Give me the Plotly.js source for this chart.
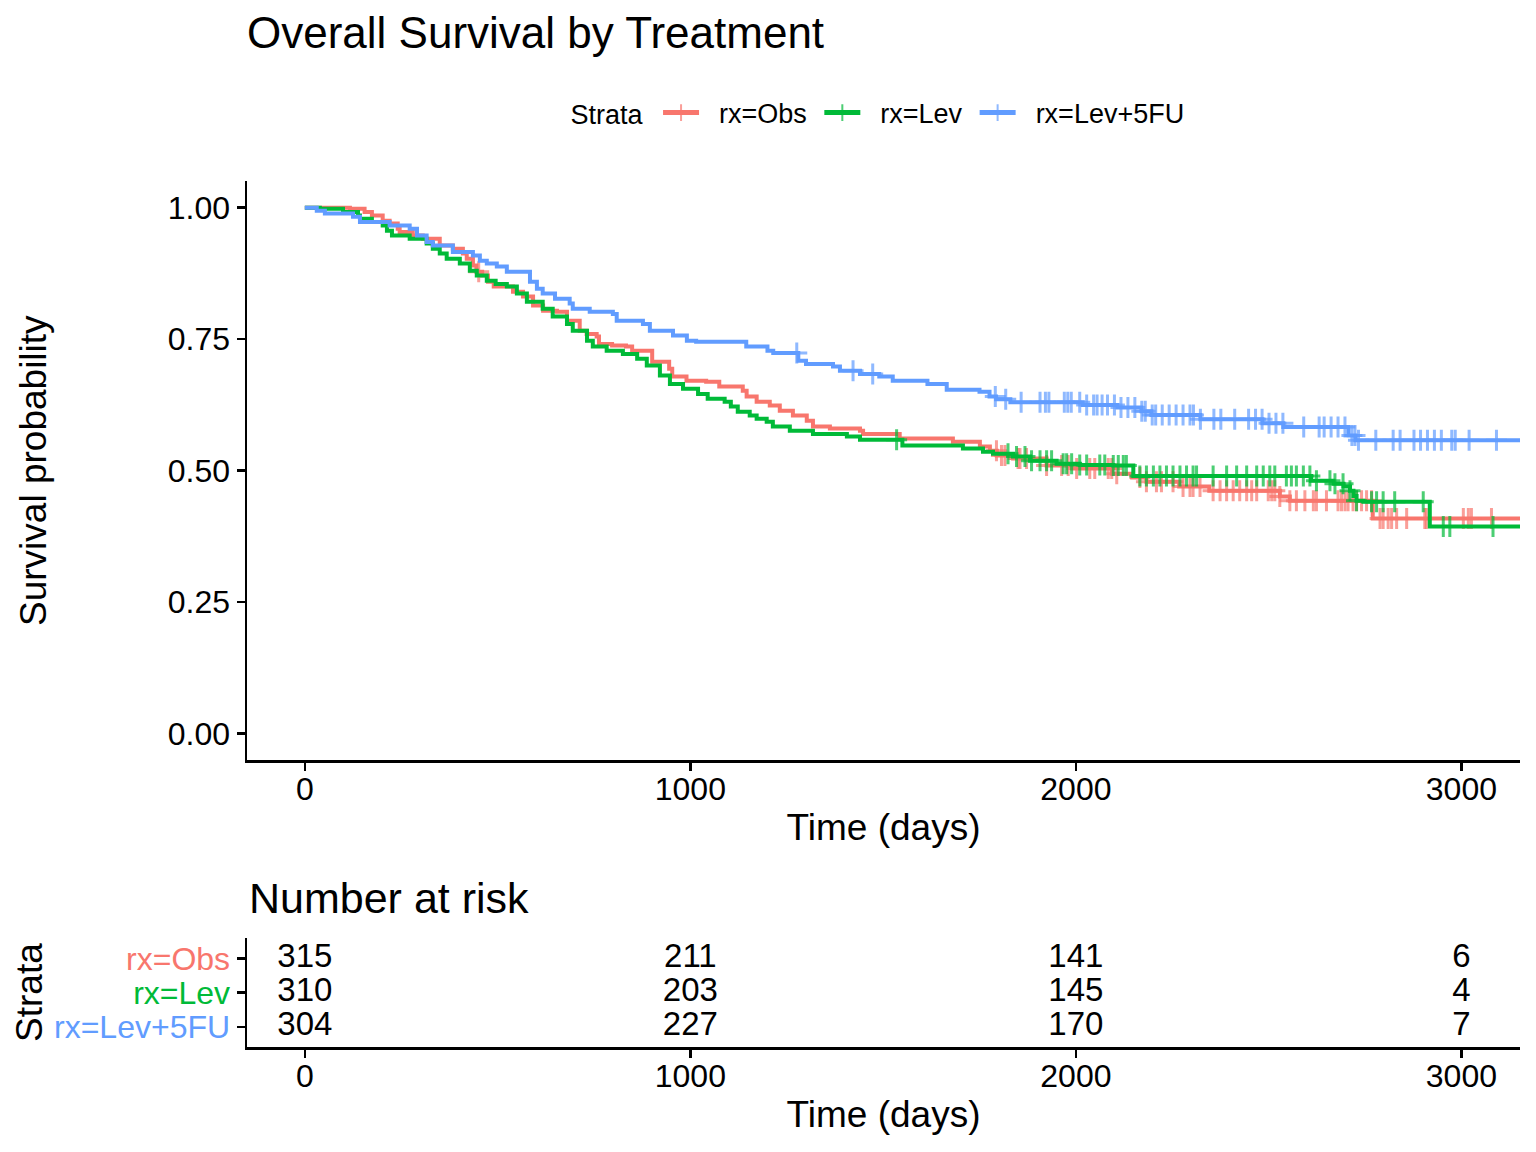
<!DOCTYPE html>
<html>
<head>
<meta charset="utf-8">
<script src="https://cdn.plot.ly/plotly-3.0.1.min.js"></script>
<style>html,body{margin:0;padding:0;background:#fff;}#chart{width:1536px;height:1152px;}</style>
</head>
<body>
<div id="chart"></div>
<script>
// ---------------- data ----------------
const groups = ["rx=Obs", "rx=Lev", "rx=Lev+5FU"];
const colors = ["#F8766D", "#00BA38", "#619CFF"];

// Kaplan-Meier step times (days) and survival values
const obsTime = [0,117,155,174,202,220,241,246,280,306,350,384,410,420,436,445,460,475,490,540,566,592,618,654,680,713,731,757,763,797,833,849,901,945,953,990,1041,1075,1136,1146,1172,1206,1232,1266,1302,1318,1362,1440,1448,1543,1681,1751,1777,1795,1837,1924,1990,2094,2146,2183,2268,2346,2529,2555,2770,3329];
const obsSurv = [1,0.998,0.992,0.985,0.975,0.970,0.960,0.954,0.947,0.941,0.928,0.922,0.913,0.903,0.890,0.878,0.871,0.859,0.850,0.840,0.831,0.814,0.804,0.802,0.785,0.766,0.760,0.755,0.741,0.738,0.736,0.728,0.707,0.694,0.679,0.671,0.669,0.660,0.652,0.641,0.631,0.624,0.614,0.605,0.595,0.584,0.580,0.576,0.570,0.561,0.555,0.546,0.538,0.529,0.523,0.510,0.504,0.494,0.487,0.479,0.470,0.462,0.451,0.443,0.409,0.409];

const levTime = [0,39,99,138,143,174,202,213,226,272,316,332,350,368,402,428,446,472,495,524,550,576,617,643,680,695,732,747,783,825,862,887,921,947,981,1020,1045,1089,1105,1123,1154,1172,1198,1214,1258,1318,1406,1440,1550,1707,1759,1785,1837,1881,1950,2010,2097,2149,2610,2668,2694,2711,2720,2728,2746,2918,3329];
const levSurv = [1,0.998,0.992,0.985,0.979,0.973,0.966,0.956,0.947,0.941,0.932,0.922,0.913,0.903,0.894,0.880,0.871,0.861,0.855,0.850,0.837,0.821,0.808,0.793,0.779,0.766,0.747,0.736,0.728,0.722,0.713,0.700,0.681,0.665,0.656,0.646,0.637,0.631,0.622,0.612,0.605,0.599,0.593,0.584,0.576,0.570,0.565,0.559,0.548,0.542,0.536,0.532,0.527,0.519,0.513,0.511,0.510,0.490,0.481,0.475,0.470,0.462,0.452,0.443,0.441,0.394,0.394];

const fuTime = [0,31,52,125,143,220,272,291,316,332,384,436,454,472,498,524,584,602,617,649,687,695,739,799,809,877,895,955,991,1015,1145,1200,1215,1280,1300,1370,1388,1440,1490,1525,1615,1665,1750,1776,1793,1830,2018,2108,2170,2196,2323,2484,2538,2707,2725,3329];
const fuSurv = [1,0.994,0.989,0.983,0.973,0.966,0.960,0.947,0.935,0.928,0.916,0.909,0.899,0.894,0.888,0.878,0.859,0.846,0.837,0.827,0.818,0.808,0.802,0.798,0.785,0.779,0.766,0.757,0.747,0.745,0.736,0.728,0.724,0.709,0.703,0.698,0.690,0.684,0.679,0.671,0.665,0.654,0.650,0.641,0.636,0.630,0.625,0.620,0.613,0.606,0.598,0.590,0.583,0.567,0.558,0.558];

// censoring times (days)
const obsCens = [451,1794,1807,1816,1850,1855,1872,1924,1963,1980,2002,2036,2049,2084,2093,2106,2166,2183,2209,2222,2252,2278,2296,2304,2322,2356,2374,2391,2408,2425,2443,2456,2469,2499,2508,2516,2529,2555,2572,2594,2616,2624,2650,2680,2689,2698,2706,2719,2728,2741,2754,2767,2789,2797,2810,2819,2832,2858,2905,2909,3005,3018,3026,3078];
const levCens = [1535,1824,1846,1868,1885,1907,1924,1937,1967,1976,1989,2010,2028,2062,2075,2097,2110,2123,2131,2166,2183,2201,2218,2235,2252,2270,2287,2304,2313,2356,2391,2417,2443,2469,2486,2503,2516,2546,2559,2572,2590,2607,2624,2659,2672,2693,2711,2728,2767,2780,2797,2827,2901,2953,2970,3082];
const fuCens = [1276,1422,1473,1791,1818,1858,1907,1921,1930,1970,1979,1988,2010,2028,2046,2055,2068,2082,2100,2117,2135,2153,2171,2180,2198,2207,2224,2242,2260,2278,2296,2305,2323,2358,2376,2412,2448,2466,2483,2501,2519,2537,2591,2631,2644,2662,2680,2698,2716,2724,2733,2778,2823,2841,2877,2894,2912,2930,2948,2975,2984,3020,3091];

// number at risk
const riskTimes = [0, 1000, 2000, 3000];
const obsRisk = [315, 211, 141, 6];
const levRisk = [310, 203, 145, 4];
const fuRisk = [304, 227, 170, 7];

const xTicks = [0, 1000, 2000, 3000];
const yTicks = [0, 0.25, 0.5, 0.75, 1];

// ---------------- build ----------------
const W = 1536, H = 1152;
const FONT = "Liberation Sans, Arial, sans-serif";
const NB = "\u00A0";
const px2x = p => p / W;
const px2y = p => 1 - p / H;

function survAt(times, surv, t) {
  let s = surv[0];
  for (let i = 0; i < times.length; i++) { if (times[i] <= t) s = surv[i]; else break; }
  return s;
}
function kmTrace(times, surv, cens, name, color) {
  const pts = times.map((t, i) => ({x: t, y: surv[i], c: false}));
  cens.forEach(c => pts.push({x: c, y: survAt(times, surv, c), c: true}));
  pts.sort((a, b) => a.x - b.x || (a.c - b.c));
  return {
    type: "scatter", mode: "lines+markers", name: NB + NB + name + NB,
    x: pts.map(p => p.x), y: pts.map(p => p.y),
    line: {shape: "hv", color: color, width: 4},
    marker: {symbol: "cross-thin", size: pts.map(p => p.c ? 15 : 0),
             color: color, line: {color: color, width: 3}},
    xaxis: "x", yaxis: "y", hoverinfo: "x+y"
  };
}
const series = [[obsTime, obsSurv, obsCens], [levTime, levSurv, levCens], [fuTime, fuSurv, fuCens]];
const risks = [obsRisk, levRisk, fuRisk];
const traces = series.map((s, i) => kmTrace(s[0], s[1], s[2], groups[i], colors[i]));
risks.forEach((r, i) => traces.push({
  type: "scatter", mode: "text", x: riskTimes, y: riskTimes.map(() => 3 - i),
  text: r.map(String), textposition: "middle center",
  textfont: {family: FONT, size: 33, color: "#000"},
  xaxis: "x2", yaxis: "y2", showlegend: false, hoverinfo: "skip"
}));

const axisCommon = {
  showline: true, linecolor: "#000", linewidth: 2.5, mirror: false,
  ticks: "outside", ticklen: 8, tickwidth: 2.5, tickcolor: "#000",
  showgrid: false, zeroline: false, fixedrange: true,
  tickfont: {family: FONT, size: 32, color: "#000"}
};
const xDomain = [px2x(247), px2x(1520)];
const layout = {
  width: W, height: H, margin: {l: 0, r: 0, t: 0, b: 0},
  paper_bgcolor: "#fff", plot_bgcolor: "#fff",
  font: {family: FONT, color: "#000"},
  title: {text: "Overall Survival by Treatment", x: px2x(247), xanchor: "left",
          y: px2y(33), yanchor: "middle", font: {family: FONT, size: 44, color: "#000"}},
  showlegend: true,
  legend: {orientation: "h", x: px2x(883), xanchor: "center", y: px2y(113), yanchor: "middle",
           title: {text: "Strata" + NB, side: "left", font: {family: FONT, size: 27}},
           font: {family: FONT, size: 27, color: "#000"}, itemsizing: "constant",
           itemwidth: 36, bgcolor: "rgba(0,0,0,0)"},
  xaxis: Object.assign({}, axisCommon, {domain: xDomain, range: [-150, 3152], tickvals: xTicks,
          anchor: "y", ticklabelstandoff: -9,
          title: {text: "Time (days)", font: {family: FONT, size: 37}, standoff: 8}}),
  yaxis: Object.assign({}, axisCommon, {domain: [px2y(760), px2y(181.4)], range: [-0.05, 1.05],
          tickvals: yTicks, tickformat: ".2f", anchor: "x",
          title: {text: "Survival probability", font: {family: FONT, size: 37}, standoff: 110}}),
  xaxis2: Object.assign({}, axisCommon, {domain: xDomain, range: [-150, 3152], tickvals: xTicks,
          anchor: "y2", ticklabelstandoff: -9,
          title: {text: "Time (days)", font: {family: FONT, size: 37}, standoff: 8}}),
  yaxis2: Object.assign({}, axisCommon, {domain: [px2y(1047.3), px2y(937.9)], range: [0.4, 3.6],
          tickvals: [3, 2, 1], anchor: "x2",
          ticktext: groups.map((g, i) => '<span style="color:' + colors[i] + '">' + g + '</span>'),
          title: {text: "Strata", font: {family: FONT, size: 37}, standoff: 0}}),
  annotations: [{text: "Number at risk", xref: "paper", yref: "paper", x: px2x(247), xanchor: "left",
                 y: px2y(898), yanchor: "middle", showarrow: false,
                 font: {family: FONT, size: 43, color: "#000"}}]
};
Plotly.newPlot("chart", traces, layout, {displayModeBar: false, staticPlot: true});
</script>
</body>
</html>
